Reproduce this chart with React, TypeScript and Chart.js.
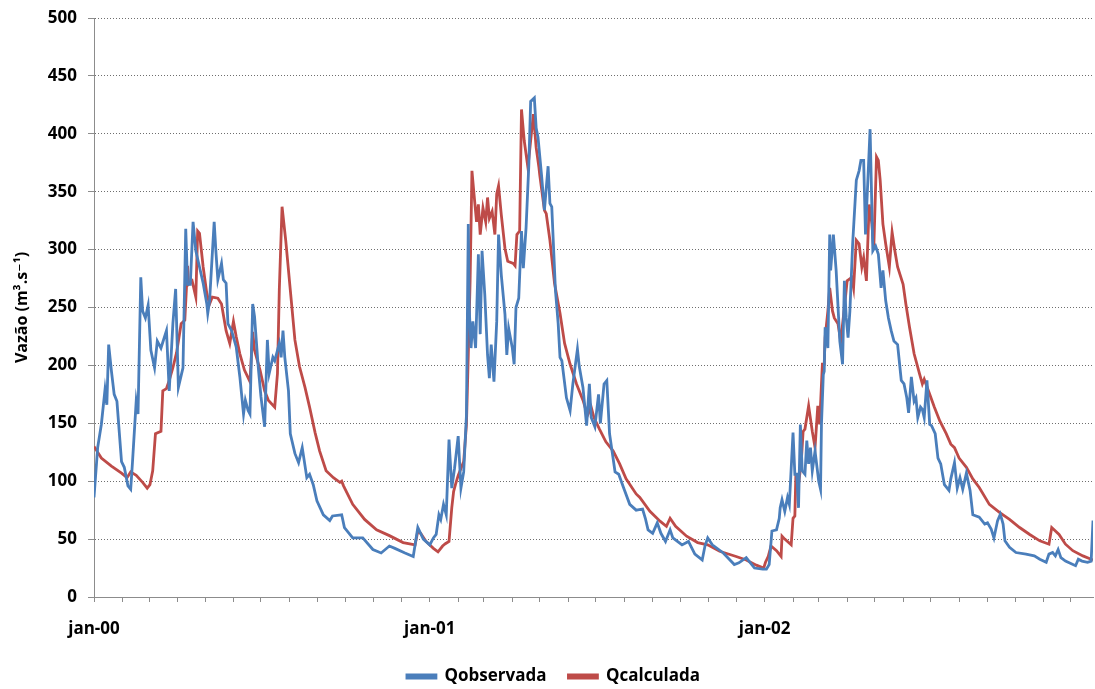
import React, { useEffect, useRef } from "react";
import { Chart, registerables } from "chart.js";

Chart.register(...registerables);

// Days counted from 1 Jan 2000
const obsDays = [0, 4, 8, 12, 14, 16, 19, 22, 25, 30, 33, 37, 40, 42, 46, 48, 51, 53, 56, 59, 62, 66, 69, 73, 79, 82, 86, 89, 92, 97, 100, 102, 105, 108, 111, 115, 119, 123, 124, 126, 131, 133, 135, 139, 141, 144, 146, 150, 155, 159, 163, 165, 168, 170, 173, 175, 179, 182, 186, 189, 191, 195, 197, 200, 202, 204, 206, 208, 212, 214, 219, 223, 227, 232, 235, 239, 243, 250, 257, 260, 270, 273, 282, 293, 304, 313, 322, 328, 339, 348, 353, 359, 366, 370, 373, 376, 378, 381, 384, 387, 390, 393, 397, 400, 403, 406, 408, 409, 411, 413, 416, 419, 421, 423, 426, 429, 431, 433, 436, 439, 441, 444, 448, 450, 452, 456, 458, 460, 463, 466, 468, 471, 474, 476, 480, 482, 484, 488, 491, 495, 497, 499, 503, 506, 508, 510, 515, 519, 522, 527, 529, 533, 537, 540, 542, 546, 550, 552, 556, 559, 562, 568, 572, 577, 584, 591, 598, 601, 604, 609, 614, 618, 623, 628, 631, 636, 641, 648, 655, 663, 666, 669, 674, 686, 698, 703, 711, 714, 720, 729, 733, 736, 739, 744, 747, 748, 750, 753, 756, 758, 762, 764, 766, 768, 770, 772, 775, 777, 779, 781, 783, 786, 790, 792, 793, 795, 796, 797, 800, 802, 803, 806, 809, 813, 816, 818, 820, 822, 824, 827, 831, 834, 836, 839, 841, 846, 849, 852, 855, 858, 860, 863, 866, 869, 872, 876, 880, 883, 886, 888, 891, 894, 896, 898, 901, 903, 905, 908, 911, 913, 917, 920, 923, 927, 932, 934, 938, 941, 944, 947, 951, 955, 958, 965, 971, 974, 978, 981, 985, 988, 991, 993, 998, 1005, 1016, 1025, 1031, 1038, 1041, 1045, 1048, 1051, 1054, 1059, 1070, 1073, 1077, 1083, 1087, 1089];
const obsValues = [86, 129, 149, 179, 166, 218, 195, 175, 169, 117, 112, 96, 93, 117, 169, 158, 276, 247, 241, 252, 213, 198, 221, 215, 230, 178, 236, 266, 181, 198, 318, 270, 270, 324, 299, 285, 271, 253, 245, 256, 324, 297, 274, 288, 274, 271, 236, 230, 216, 190, 158, 170, 161, 158, 253, 242, 199, 173, 147, 222, 193, 207, 204, 213, 219, 207, 230, 207, 178, 141, 124, 116, 129, 103, 106, 97, 83, 71, 66, 70, 71, 60, 51, 51, 41, 38, 44, 42, 38, 35, 60, 50, 45, 51, 54, 71, 67, 80, 71, 136, 94, 111, 139, 94, 108, 157, 322, 250, 215, 238, 215, 296, 227, 299, 261, 209, 189, 218, 186, 238, 313, 278, 244, 209, 232, 215, 201, 250, 258, 316, 284, 319, 373, 428, 431, 405, 397, 363, 334, 372, 340, 337, 265, 236, 207, 204, 172, 161, 184, 214, 199, 181, 148, 184, 155, 147, 175, 150, 184, 187, 141, 108, 106, 95, 80, 75, 76, 68, 58, 55, 64, 55, 48, 58, 51, 48, 45, 48, 37, 32, 44, 51, 45, 38, 28, 29.5, 34, 31, 25, 24, 24, 28, 57, 58, 68, 77, 84, 74, 86, 80, 142, 106, 106, 77, 149, 109, 106, 135, 115, 129, 109, 126, 100, 93, 149, 192, 195, 233, 215, 313, 282, 313, 282, 221, 201, 273, 241, 224, 247, 305, 360, 368, 377, 377, 313, 404, 299, 303, 296, 267, 282, 256, 241, 230, 221, 218, 187, 184, 172, 159, 190, 169, 172, 155, 164, 162, 155, 187, 149, 148, 141, 120, 115, 97, 92, 102, 116, 94, 103, 93, 107, 92, 71, 69, 63, 64, 58.6, 51, 66, 71.5, 63, 48.5, 43, 38.4, 37, 35.5, 32.6, 30, 37, 38.4, 35.5, 41, 34, 31, 27, 32.6, 31, 30, 31, 66];

const calcDays = [0, 8, 19, 30, 36, 40, 46, 53, 58, 61, 64, 67, 73, 75, 79, 82, 86, 90, 95, 99, 102, 103, 107, 111, 113, 115, 119, 123, 126, 129, 135, 139, 144, 148, 152, 155, 159, 164, 170, 173, 175, 181, 186, 190, 197, 200, 202, 205, 209, 214, 219, 224, 230, 235, 241, 246, 253, 261, 268, 270, 272, 282, 295, 308, 322, 337, 350, 353, 356, 362, 370, 375, 380, 383, 387, 390, 392, 394, 397, 400, 403, 406, 408, 410, 412, 414, 417, 419, 421, 424, 427, 429, 431, 434, 437, 439, 441, 444, 448, 451, 457, 459, 461, 464, 466, 469, 473, 477, 479, 482, 485, 486, 491, 493, 497, 502, 508, 513, 519, 526, 533, 538, 542, 545, 551, 558, 566, 573, 580, 591, 595, 606, 617, 624, 628, 634, 646, 658, 669, 682, 700, 711, 722, 730, 732, 735, 738, 744, 749, 750, 753, 760, 762, 764, 765, 768, 771, 773, 775, 779, 783, 786, 789, 791, 794, 796, 797, 800, 802, 805, 807, 811, 814, 818, 821, 826, 828, 831, 834, 837, 839, 842, 845, 848, 850, 853, 855, 857, 860, 863, 867, 870, 873, 876, 882, 885, 889, 894, 900, 903, 905, 911, 916, 922, 929, 934, 938, 943, 951, 958, 965, 976, 987, 998, 1009, 1020, 1031, 1041, 1044, 1052, 1059, 1067, 1078, 1087, 1089];
const calcValues = [130, 120, 113, 107, 103, 108, 105, 99, 94, 97, 109, 141, 143, 178, 180, 187, 198, 211, 236, 239, 286, 270, 273, 259, 316, 314, 285, 262, 253, 259, 258, 253, 230, 219, 238, 225, 210, 196, 186, 229, 213, 196, 178, 170, 164, 193, 265, 337, 308, 265, 222, 199, 181, 164, 142, 126, 109, 103, 99, 100, 96, 80, 67, 58, 53, 47, 45, 57, 55, 48, 42, 39, 44, 46, 48, 77, 91, 97, 105, 111, 117, 149, 209, 273, 368, 350, 324, 339, 313, 336, 324, 345, 327, 333, 313, 348, 355, 330, 301, 290, 288, 286, 313, 316, 421, 394, 371, 402, 417, 388, 371, 364, 334, 331, 308, 271, 245, 219, 201, 184, 170, 157, 164, 155, 145, 134, 126, 115, 102, 89, 86, 74, 65.5, 61, 68, 61, 52.5, 47, 45, 39.5, 35, 32, 27.5, 25, 30, 35, 44, 40, 35, 52.5, 50, 45, 68, 70, 103, 97, 117, 143, 145, 165, 143, 129, 165, 149, 201, 201, 224, 247, 267, 247, 241, 236, 221, 250, 273, 276, 267, 308, 305, 285, 293, 273, 339, 322, 300, 380, 377, 360, 322, 305, 285, 315, 299, 285, 270, 253, 233, 210, 192.5, 184, 188, 175, 164, 152, 141, 132, 129, 120, 112, 102, 94.6, 80, 73, 67, 60, 54, 48.5, 45.6, 60, 54, 45.6, 40, 35.5, 32.6, 32];

const seriesNames = ["Qobservada", "Qcalculada"];
const seriesColors = ["#4A7EBB", "#BE4B48"];
const yTitle = "Vazão (m³.s⁻¹)";
const monthAbbr = ["jan", "fev", "mar", "abr", "mai", "jun", "jul", "ago", "set", "out", "nov", "dez"];
const years = [2000, 2001, 2002];
const xMaxDay = 1089;

const FONT = "'Open Sans', 'DejaVu Sans', sans-serif";

export default function App() {
  const ref = useRef<HTMLCanvasElement | null>(null);

  useEffect(() => {
    if (!ref.current) return;
    const base = Date.UTC(2000, 0, 1);
    const monthTicks: { value: number; label: string }[] = [];
    years.forEach((y) => {
      for (let m = 0; m < 12; m++) {
        const d = Math.round((Date.UTC(y, m, 1) - base) / 86400000);
        if (d <= xMaxDay) {
          monthTicks.push({ value: d, label: m === 0 ? `${monthAbbr[m]}-${String(y).slice(2)}` : "" });
        }
      }
    });

    const chart = new Chart(ref.current, {
      type: "line",
      data: {
        datasets: [
          {
            label: seriesNames[0],
            data: obsDays.map((d, i) => ({ x: d, y: obsValues[i] })),
            borderColor: seriesColors[0],
            backgroundColor: seriesColors[0],
            borderWidth: 2.8,
            pointRadius: 0,
            tension: 0,
          },
          {
            label: seriesNames[1],
            data: calcDays.map((d, i) => ({ x: d, y: calcValues[i] })),
            borderColor: seriesColors[1],
            backgroundColor: seriesColors[1],
            borderWidth: 2.8,
            pointRadius: 0,
            tension: 0,
          },
        ],
      },
      options: {
        animation: false,
        responsive: true,
        maintainAspectRatio: false,
        layout: { padding: { top: 18, right: 2, left: 14, bottom: 0 } },
        plugins: {
          tooltip: { enabled: false },
          legend: {
            position: "bottom",
            labels: {
              boxWidth: 29,
              boxHeight: 3,
              padding: 22,
              color: "#000",
              font: { family: FONT, size: 17, weight: "bold" },
            },
          },
        },
        scales: {
          x: {
            type: "linear",
            min: 0,
            max: xMaxDay,
            afterBuildTicks: (scale: any) => {
              scale.ticks = monthTicks.map((t) => ({ value: t.value }));
            },
            afterFit: (scale: any) => {
              scale.height = 49;
            },
            ticks: {
              autoSkip: false,
              maxRotation: 0,
              padding: 17,
              color: "#000",
              font: { family: FONT, size: 17, weight: "bold" },
              callback: (value: any) => {
                const t = monthTicks.find((m) => m.value === value);
                return t ? t.label : "";
              },
            },
            grid: {
              drawOnChartArea: false,
              drawTicks: true,
              tickLength: 5,
              color: "#8C8C8C",
            },
            border: { display: true, color: "#8C8C8C", width: 1 },
          },
          y: {
            min: 0,
            max: 500,
            afterFit: (scale: any) => {
              scale.width = 80;
              scale.paddingTop = 0;
              scale.paddingBottom = 0;
            },
            ticks: {
              stepSize: 50,
              padding: 11,
              color: "#000",
              font: { family: FONT, size: 17, weight: "bold" },
            },
            title: {
              display: true,
              text: yTitle,
              color: "#000",
              padding: { top: -1, bottom: 0 },
              font: { family: FONT, size: 16, weight: "bold" },
            },
            grid: {
              color: "#6E6E6E",
              lineWidth: 1,
              drawTicks: true,
              tickLength: 6,
              tickColor: "#8C8C8C",
            },
            border: { display: true, color: "#8C8C8C", width: 1, dash: [1, 2] },
          },
        },
      },
    });
    return () => chart.destroy();
  }, []);

  return (
    <div style={{ position: "absolute", left: 0, top: 0, width: 1095, height: 689, overflow: "hidden", background: "#fff" }}>
      <div style={{ position: "relative", width: 1095, height: 695 }}>
        <canvas ref={ref} />
      </div>
    </div>
  );
}
